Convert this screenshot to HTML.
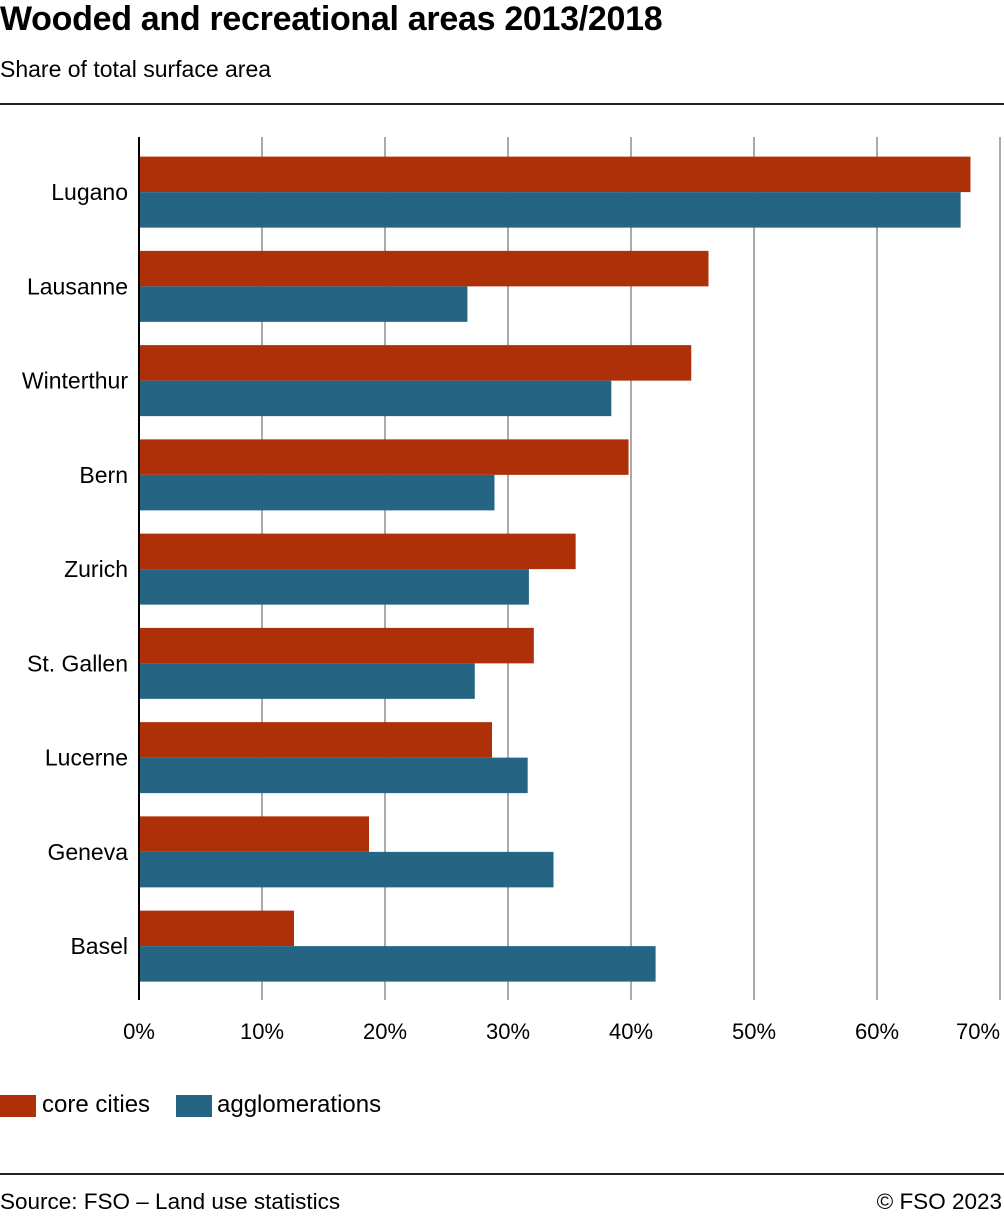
<!DOCTYPE html>
<html><head><meta charset="utf-8"><style>
body{margin:0;background:#fff;font-family:"Liberation Sans",sans-serif;color:#000}
#w{position:relative;width:1004px;height:1217px;overflow:hidden}
</style></head><body>
<div id="w">
<div style="position:absolute;left:0;top:0px;font-size:34px;font-weight:bold;letter-spacing:-0.3px">Wooded and recreational areas 2013/2018</div>
<div style="position:absolute;left:0;top:56px;font-size:23px">Share of total surface area</div>
<div style="position:absolute;left:0;top:103px;width:1004px;height:2px;background:#222"></div>
<svg id="c" width="1004" height="1217" style="position:absolute;left:0;top:0"></svg>
<div style="position:absolute;left:0;top:1095px;width:36px;height:22px;background:#ae3008"></div>
<div style="position:absolute;left:42px;top:1091px;font-size:24px">core cities</div>
<div style="position:absolute;left:176px;top:1095px;width:36px;height:22px;background:#256482"></div>
<div style="position:absolute;left:217px;top:1091px;font-size:24px">agglomerations</div>
<div style="position:absolute;left:0;top:1173px;width:1004px;height:2px;background:#222"></div>
<div style="position:absolute;left:0;top:1189px;font-size:22.5px">Source: FSO – Land use statistics</div>
<div style="position:absolute;right:2px;top:1189px;font-size:22.5px">© FSO 2023</div>
</div>
<script>
const categories=["Lugano","Lausanne","Winterthur","Bern","Zurich","St. Gallen","Lucerne","Geneva","Basel"];
const coreCities=[67.6,46.3,44.9,39.8,35.5,32.1,28.7,18.7,12.6];
const agglomerations=[66.8,26.7,38.4,28.9,31.7,27.3,31.6,33.7,42.0];
const ticks=[0,10,20,30,40,50,60,70];
const tickLabels=["0%","10%","20%","30%","40%","50%","60%","70%"];
const svg=document.getElementById('c');const NS="http://www.w3.org/2000/svg";
const x0=139,x1=1000,plotTop=145,band=94.25,bh=35.5;
const x=v=>x0+(v/70)*(x1-x0);
function mk(t,a){const e=document.createElementNS(NS,t);for(const k in a)e.setAttribute(k,a[k]);svg.appendChild(e);return e;}
ticks.forEach((t,i)=>{
 if(t>0){const g=mk('line',{x1:x(t),x2:x(t),y1:137,y2:1000,stroke:'#aaa','stroke-width':2});
 
 }
 const l=mk('text',{x:Math.min(x(t),978),y:1039,'font-size':22,'text-anchor':'middle','font-family':'Liberation Sans'});
 l.textContent=tickLabels[i];
 
 
});
categories.forEach((c,i)=>{
 const cy=plotTop+band*i+band/2;
 const r1=mk('rect',{x:x0,y:cy-bh,width:x(coreCities[i])-x0,height:bh,fill:'#ae3008'});
 
 
 const r2=mk('rect',{x:x0,y:cy,width:x(agglomerations[i])-x0,height:bh,fill:'#256482'});
 
 
 const t=mk('text',{x:128,y:cy+8,'font-size':23,'text-anchor':'end','font-family':'Liberation Sans'});
 t.textContent=c;
 
 
});
const ax=mk('line',{x1:x0,x2:x0,y1:137,y2:1000,stroke:'#000','stroke-width':2});


</script>
</body></html>
